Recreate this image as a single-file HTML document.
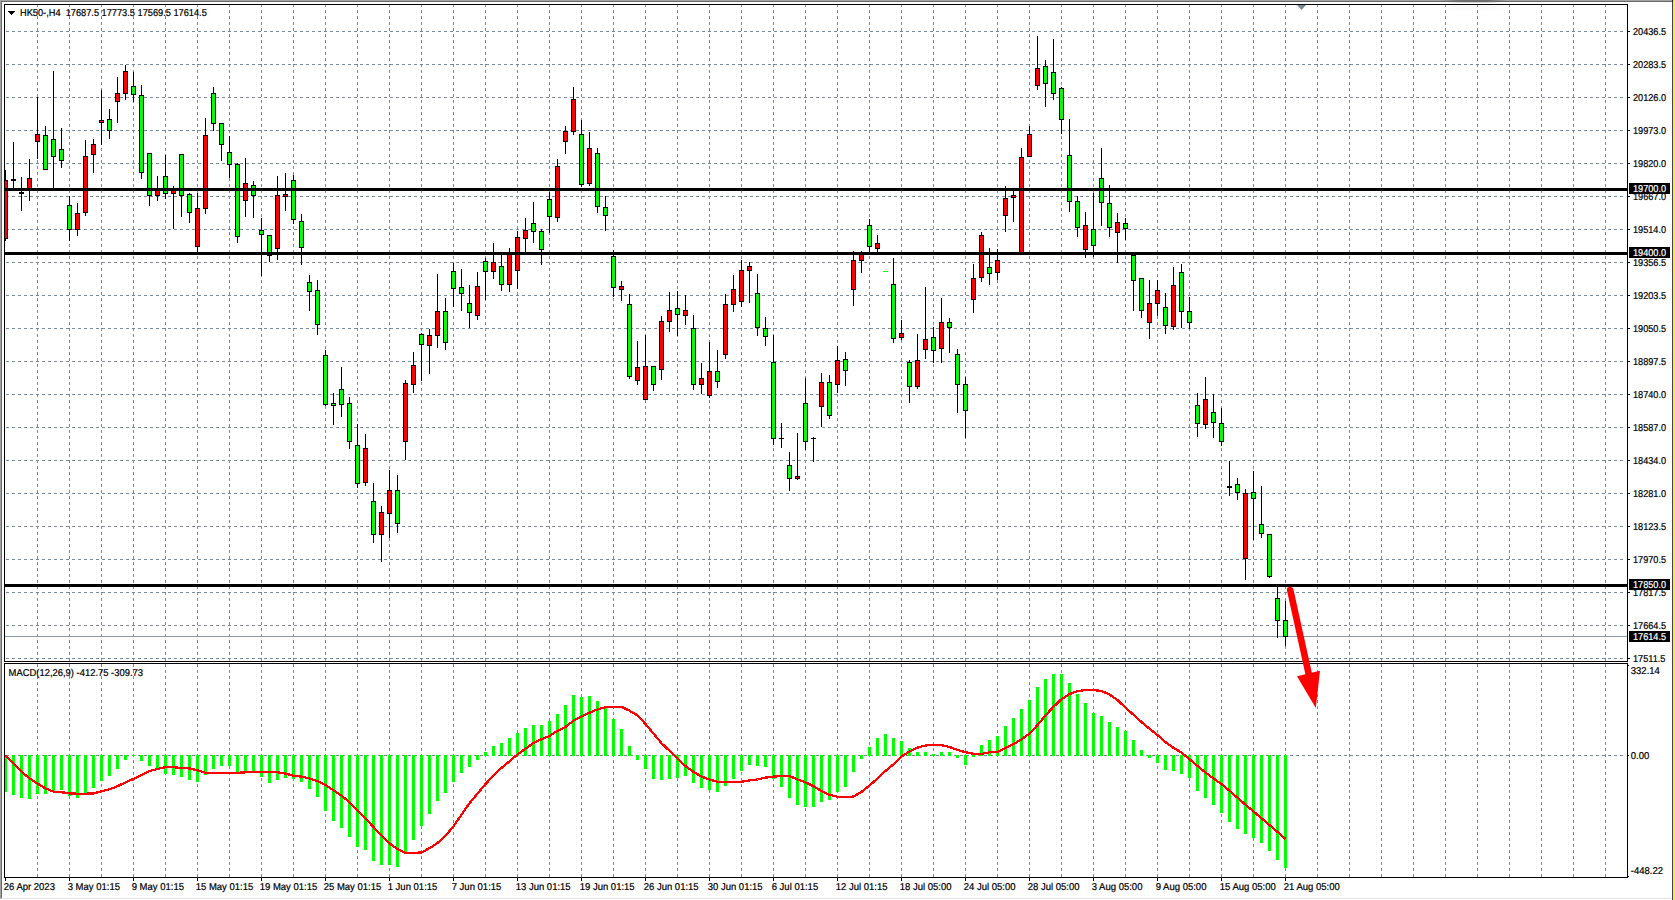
<!DOCTYPE html>
<html><head><meta charset="utf-8"><title>HK50-,H4</title>
<style>html,body{margin:0;padding:0;background:#fff;overflow:hidden}svg{display:block}text{font-family:"Liberation Sans",sans-serif;font-size:10px;fill:#000;stroke:#000;stroke-width:0.22px;text-rendering:geometricPrecision}.w{fill:#fff;stroke:#fff}</style></head><body>
<svg width="1675" height="900" viewBox="0 0 1675 900">
<rect x="0" y="0" width="1675" height="900" fill="#fff"/>
<g shape-rendering="crispEdges">
<rect x="0" y="0" width="1672" height="1" fill="#a4a4a4"/>
<rect x="0" y="0" width="1" height="899" fill="#a2a2a2"/>
<rect x="1" y="1" width="1671" height="1" fill="#696969"/>
<rect x="1" y="1" width="1" height="897" fill="#696969"/>
<rect x="1" y="898" width="1670" height="1" fill="#e2e2e2"/>
<rect x="1672" y="0" width="1" height="900" fill="#41414a"/>
<rect x="1672" y="0" width="1" height="2" fill="#1c1c24"/>
<rect x="1673" y="0" width="2" height="900" fill="#ffe83c"/>
<defs><linearGradient id="sh" x1="0" x2="1" y1="0" y2="0"><stop offset="0" stop-color="#000" stop-opacity="0"/><stop offset="0.3" stop-color="#000" stop-opacity="1"/><stop offset="0.7" stop-color="#000" stop-opacity="1"/><stop offset="1" stop-color="#000" stop-opacity="0"/></linearGradient></defs>
<rect x="1440" y="0" width="68" height="1" fill="url(#sh)" opacity="0.33"/>
<rect x="1446" y="2" width="56" height="1" fill="url(#sh)" opacity="0.18"/>
<rect x="1436" y="5" width="76" height="5" fill="url(#sh)" opacity="0.025"/>
<defs><clipPath id="cg"><rect x="5" y="5" width="1621" height="656"/><rect x="5" y="664" width="1621" height="213"/></clipPath></defs>
<g stroke="#778899" stroke-width="1" stroke-dasharray="3 3" fill="none" clip-path="url(#cg)">
<path d="M37.5 4V661M37.5 664V877" stroke-dashoffset="0"/>
<path d="M69.5 4V661M69.5 664V877" stroke-dashoffset="0"/>
<path d="M101.5 4V661M101.5 664V877" stroke-dashoffset="0"/>
<path d="M133.5 4V661M133.5 664V877" stroke-dashoffset="0"/>
<path d="M165.5 4V661M165.5 664V877" stroke-dashoffset="0"/>
<path d="M197.5 4V661M197.5 664V877" stroke-dashoffset="0"/>
<path d="M229.5 4V661M229.5 664V877" stroke-dashoffset="0"/>
<path d="M261.5 4V661M261.5 664V877" stroke-dashoffset="0"/>
<path d="M293.5 4V661M293.5 664V877" stroke-dashoffset="0"/>
<path d="M325.5 4V661M325.5 664V877" stroke-dashoffset="0"/>
<path d="M357.5 4V661M357.5 664V877" stroke-dashoffset="0"/>
<path d="M389.5 4V661M389.5 664V877" stroke-dashoffset="0"/>
<path d="M421.5 4V661M421.5 664V877" stroke-dashoffset="0"/>
<path d="M453.5 4V661M453.5 664V877" stroke-dashoffset="0"/>
<path d="M485.5 4V661M485.5 664V877" stroke-dashoffset="0"/>
<path d="M517.5 4V661M517.5 664V877" stroke-dashoffset="0"/>
<path d="M549.5 4V661M549.5 664V877" stroke-dashoffset="0"/>
<path d="M581.5 4V661M581.5 664V877" stroke-dashoffset="0"/>
<path d="M613.5 4V661M613.5 664V877" stroke-dashoffset="0"/>
<path d="M645.5 4V661M645.5 664V877" stroke-dashoffset="0"/>
<path d="M677.5 4V661M677.5 664V877" stroke-dashoffset="0"/>
<path d="M709.5 4V661M709.5 664V877" stroke-dashoffset="0"/>
<path d="M741.5 4V661M741.5 664V877" stroke-dashoffset="0"/>
<path d="M773.5 4V661M773.5 664V877" stroke-dashoffset="0"/>
<path d="M805.5 4V661M805.5 664V877" stroke-dashoffset="0"/>
<path d="M837.5 4V661M837.5 664V877" stroke-dashoffset="0"/>
<path d="M869.5 4V661M869.5 664V877" stroke-dashoffset="0"/>
<path d="M901.5 4V661M901.5 664V877" stroke-dashoffset="0"/>
<path d="M933.5 4V661M933.5 664V877" stroke-dashoffset="0"/>
<path d="M965.5 4V661M965.5 664V877" stroke-dashoffset="0"/>
<path d="M997.5 4V661M997.5 664V877" stroke-dashoffset="0"/>
<path d="M1029.5 4V661M1029.5 664V877" stroke-dashoffset="0"/>
<path d="M1061.5 4V661M1061.5 664V877" stroke-dashoffset="0"/>
<path d="M1093.5 4V661M1093.5 664V877" stroke-dashoffset="0"/>
<path d="M1125.5 4V661M1125.5 664V877" stroke-dashoffset="0"/>
<path d="M1157.5 4V661M1157.5 664V877" stroke-dashoffset="0"/>
<path d="M1189.5 4V661M1189.5 664V877" stroke-dashoffset="0"/>
<path d="M1221.5 4V661M1221.5 664V877" stroke-dashoffset="0"/>
<path d="M1253.5 4V661M1253.5 664V877" stroke-dashoffset="0"/>
<path d="M1285.5 4V661M1285.5 664V877" stroke-dashoffset="0"/>
<path d="M1317.5 4V661M1317.5 664V877" stroke-dashoffset="0"/>
<path d="M1349.5 4V661M1349.5 664V877" stroke-dashoffset="0"/>
<path d="M1381.5 4V661M1381.5 664V877" stroke-dashoffset="0"/>
<path d="M1413.5 4V661M1413.5 664V877" stroke-dashoffset="0"/>
<path d="M1445.5 4V661M1445.5 664V877" stroke-dashoffset="0"/>
<path d="M1477.5 4V661M1477.5 664V877" stroke-dashoffset="0"/>
<path d="M1509.5 4V661M1509.5 664V877" stroke-dashoffset="0"/>
<path d="M1541.5 4V661M1541.5 664V877" stroke-dashoffset="0"/>
<path d="M1573.5 4V661M1573.5 664V877" stroke-dashoffset="0"/>
<path d="M1605.5 4V661M1605.5 664V877" stroke-dashoffset="0"/>
<path d="M0 31.5H1627"/>
<path d="M0 64.5H1627"/>
<path d="M0 97.5H1627"/>
<path d="M0 130.5H1627"/>
<path d="M0 163.5H1627"/>
<path d="M0 196.5H1627"/>
<path d="M0 229.5H1627"/>
<path d="M0 262.5H1627"/>
<path d="M0 295.5H1627"/>
<path d="M0 328.5H1627"/>
<path d="M0 361.5H1627"/>
<path d="M0 394.5H1627"/>
<path d="M0 427.5H1627"/>
<path d="M0 460.5H1627"/>
<path d="M0 493.5H1627"/>
<path d="M0 526.5H1627"/>
<path d="M0 559.5H1627"/>
<path d="M0 592.5H1627"/>
<path d="M0 625.5H1627"/>
<path d="M0 658.5H1627"/>
<path d="M0 755.5H1627"/>
</g>
<rect x="5" y="636" width="1622" height="1" fill="#8c9aab"/>
<rect x="5" y="170" width="1" height="71" fill="#000"/>
<rect x="3" y="180" width="5" height="59" fill="#000"/>
<rect x="4" y="181" width="3" height="57" fill="#ff0000"/>
<rect x="13" y="142" width="1" height="47" fill="#000"/>
<rect x="11" y="179" width="5" height="2" fill="#000"/>
<rect x="21" y="177" width="1" height="34" fill="#000"/>
<rect x="19" y="192" width="5" height="2" fill="#000"/>
<rect x="29" y="159" width="1" height="42" fill="#000"/>
<rect x="27" y="178" width="5" height="12" fill="#000"/>
<rect x="28" y="179" width="3" height="10" fill="#ff0000"/>
<rect x="37" y="97" width="1" height="62" fill="#000"/>
<rect x="35" y="134" width="5" height="8" fill="#000"/>
<rect x="36" y="135" width="3" height="6" fill="#ff0000"/>
<rect x="45" y="126" width="1" height="44" fill="#000"/>
<rect x="43" y="135" width="5" height="35" fill="#000"/>
<rect x="44" y="136" width="3" height="33" fill="#00ff00"/>
<rect x="53" y="71" width="1" height="118" fill="#000"/>
<rect x="51" y="139" width="5" height="18" fill="#000"/>
<rect x="52" y="140" width="3" height="16" fill="#00ff00"/>
<rect x="61" y="128" width="1" height="40" fill="#000"/>
<rect x="59" y="149" width="5" height="12" fill="#000"/>
<rect x="60" y="150" width="3" height="10" fill="#00ff00"/>
<rect x="69" y="196" width="1" height="45" fill="#000"/>
<rect x="67" y="205" width="5" height="25" fill="#000"/>
<rect x="68" y="206" width="3" height="23" fill="#00ff00"/>
<rect x="77" y="203" width="1" height="33" fill="#000"/>
<rect x="75" y="213" width="5" height="17" fill="#000"/>
<rect x="76" y="214" width="3" height="15" fill="#ff0000"/>
<rect x="85" y="140" width="1" height="76" fill="#000"/>
<rect x="83" y="156" width="5" height="57" fill="#000"/>
<rect x="84" y="157" width="3" height="55" fill="#ff0000"/>
<rect x="93" y="139" width="1" height="34" fill="#000"/>
<rect x="91" y="144" width="5" height="11" fill="#000"/>
<rect x="92" y="145" width="3" height="9" fill="#ff0000"/>
<rect x="101" y="90" width="1" height="55" fill="#000"/>
<rect x="99" y="120" width="5" height="3" fill="#000"/>
<rect x="100" y="121" width="3" height="1" fill="#ff0000"/>
<rect x="109" y="109" width="1" height="30" fill="#000"/>
<rect x="107" y="119" width="5" height="12" fill="#000"/>
<rect x="108" y="120" width="3" height="10" fill="#00ff00"/>
<rect x="117" y="77" width="1" height="46" fill="#000"/>
<rect x="115" y="93" width="5" height="9" fill="#000"/>
<rect x="116" y="94" width="3" height="7" fill="#ff0000"/>
<rect x="125" y="65" width="1" height="35" fill="#000"/>
<rect x="123" y="71" width="5" height="23" fill="#000"/>
<rect x="124" y="72" width="3" height="21" fill="#ff0000"/>
<rect x="133" y="72" width="1" height="30" fill="#000"/>
<rect x="131" y="86" width="5" height="9" fill="#000"/>
<rect x="132" y="87" width="3" height="7" fill="#00ff00"/>
<rect x="141" y="85" width="1" height="94" fill="#000"/>
<rect x="139" y="95" width="5" height="78" fill="#000"/>
<rect x="140" y="96" width="3" height="76" fill="#00ff00"/>
<rect x="149" y="153" width="1" height="53" fill="#000"/>
<rect x="147" y="153" width="5" height="43" fill="#000"/>
<rect x="148" y="154" width="3" height="41" fill="#00ff00"/>
<rect x="157" y="176" width="1" height="25" fill="#000"/>
<rect x="155" y="189" width="5" height="7" fill="#000"/>
<rect x="156" y="190" width="3" height="5" fill="#ff0000"/>
<rect x="165" y="155" width="1" height="44" fill="#000"/>
<rect x="163" y="176" width="5" height="18" fill="#000"/>
<rect x="164" y="177" width="3" height="16" fill="#00ff00"/>
<rect x="173" y="186" width="1" height="43" fill="#000"/>
<rect x="171" y="189" width="5" height="5" fill="#000"/>
<rect x="172" y="190" width="3" height="3" fill="#ff0000"/>
<rect x="181" y="154" width="1" height="63" fill="#000"/>
<rect x="179" y="154" width="5" height="42" fill="#000"/>
<rect x="180" y="155" width="3" height="40" fill="#00ff00"/>
<rect x="189" y="193" width="1" height="30" fill="#000"/>
<rect x="187" y="194" width="5" height="19" fill="#000"/>
<rect x="188" y="195" width="3" height="17" fill="#00ff00"/>
<rect x="197" y="193" width="1" height="60" fill="#000"/>
<rect x="195" y="208" width="5" height="39" fill="#000"/>
<rect x="196" y="209" width="3" height="37" fill="#ff0000"/>
<rect x="205" y="118" width="1" height="96" fill="#000"/>
<rect x="203" y="135" width="5" height="74" fill="#000"/>
<rect x="204" y="136" width="3" height="72" fill="#ff0000"/>
<rect x="213" y="87" width="1" height="44" fill="#000"/>
<rect x="211" y="93" width="5" height="31" fill="#000"/>
<rect x="212" y="94" width="3" height="29" fill="#00ff00"/>
<rect x="221" y="123" width="1" height="38" fill="#000"/>
<rect x="219" y="123" width="5" height="22" fill="#000"/>
<rect x="220" y="124" width="3" height="20" fill="#00ff00"/>
<rect x="229" y="136" width="1" height="42" fill="#000"/>
<rect x="227" y="152" width="5" height="13" fill="#000"/>
<rect x="228" y="153" width="3" height="11" fill="#00ff00"/>
<rect x="237" y="163" width="1" height="80" fill="#000"/>
<rect x="235" y="164" width="5" height="73" fill="#000"/>
<rect x="236" y="165" width="3" height="71" fill="#00ff00"/>
<rect x="245" y="158" width="1" height="59" fill="#000"/>
<rect x="243" y="183" width="5" height="18" fill="#000"/>
<rect x="244" y="184" width="3" height="16" fill="#ff0000"/>
<rect x="253" y="181" width="1" height="37" fill="#000"/>
<rect x="251" y="185" width="5" height="11" fill="#000"/>
<rect x="252" y="186" width="3" height="9" fill="#00ff00"/>
<rect x="261" y="218" width="1" height="58" fill="#000"/>
<rect x="259" y="230" width="5" height="5" fill="#000"/>
<rect x="260" y="231" width="3" height="3" fill="#00ff00"/>
<rect x="269" y="235" width="1" height="27" fill="#000"/>
<rect x="267" y="235" width="5" height="21" fill="#000"/>
<rect x="268" y="236" width="3" height="19" fill="#00ff00"/>
<rect x="277" y="176" width="1" height="84" fill="#000"/>
<rect x="275" y="195" width="5" height="54" fill="#000"/>
<rect x="276" y="196" width="3" height="52" fill="#ff0000"/>
<rect x="285" y="173" width="1" height="38" fill="#000"/>
<rect x="283" y="194" width="5" height="3" fill="#000"/>
<rect x="284" y="195" width="3" height="1" fill="#ff0000"/>
<rect x="293" y="175" width="1" height="49" fill="#000"/>
<rect x="291" y="180" width="5" height="40" fill="#000"/>
<rect x="292" y="181" width="3" height="38" fill="#00ff00"/>
<rect x="301" y="214" width="1" height="51" fill="#000"/>
<rect x="299" y="221" width="5" height="27" fill="#000"/>
<rect x="300" y="222" width="3" height="25" fill="#00ff00"/>
<rect x="309" y="275" width="1" height="36" fill="#000"/>
<rect x="307" y="282" width="5" height="10" fill="#000"/>
<rect x="308" y="283" width="3" height="8" fill="#00ff00"/>
<rect x="317" y="280" width="1" height="55" fill="#000"/>
<rect x="315" y="290" width="5" height="35" fill="#000"/>
<rect x="316" y="291" width="3" height="33" fill="#00ff00"/>
<rect x="325" y="350" width="1" height="56" fill="#000"/>
<rect x="323" y="355" width="5" height="50" fill="#000"/>
<rect x="324" y="356" width="3" height="48" fill="#00ff00"/>
<rect x="333" y="393" width="1" height="32" fill="#000"/>
<rect x="331" y="403" width="5" height="3" fill="#000"/>
<rect x="332" y="404" width="3" height="1" fill="#00ff00"/>
<rect x="341" y="367" width="1" height="50" fill="#000"/>
<rect x="339" y="389" width="5" height="16" fill="#000"/>
<rect x="340" y="390" width="3" height="14" fill="#00ff00"/>
<rect x="349" y="397" width="1" height="52" fill="#000"/>
<rect x="347" y="403" width="5" height="39" fill="#000"/>
<rect x="348" y="404" width="3" height="37" fill="#00ff00"/>
<rect x="357" y="424" width="1" height="64" fill="#000"/>
<rect x="355" y="445" width="5" height="39" fill="#000"/>
<rect x="356" y="446" width="3" height="37" fill="#00ff00"/>
<rect x="365" y="434" width="1" height="52" fill="#000"/>
<rect x="363" y="448" width="5" height="35" fill="#000"/>
<rect x="364" y="449" width="3" height="33" fill="#ff0000"/>
<rect x="373" y="483" width="1" height="60" fill="#000"/>
<rect x="371" y="501" width="5" height="34" fill="#000"/>
<rect x="372" y="502" width="3" height="32" fill="#00ff00"/>
<rect x="381" y="506" width="1" height="56" fill="#000"/>
<rect x="379" y="512" width="5" height="23" fill="#000"/>
<rect x="380" y="513" width="3" height="21" fill="#ff0000"/>
<rect x="389" y="470" width="1" height="68" fill="#000"/>
<rect x="387" y="490" width="5" height="24" fill="#000"/>
<rect x="388" y="491" width="3" height="22" fill="#ff0000"/>
<rect x="397" y="475" width="1" height="58" fill="#000"/>
<rect x="395" y="490" width="5" height="34" fill="#000"/>
<rect x="396" y="491" width="3" height="32" fill="#00ff00"/>
<rect x="405" y="380" width="1" height="80" fill="#000"/>
<rect x="403" y="383" width="5" height="59" fill="#000"/>
<rect x="404" y="384" width="3" height="57" fill="#ff0000"/>
<rect x="413" y="352" width="1" height="41" fill="#000"/>
<rect x="411" y="365" width="5" height="20" fill="#000"/>
<rect x="412" y="366" width="3" height="18" fill="#ff0000"/>
<rect x="421" y="333" width="1" height="48" fill="#000"/>
<rect x="419" y="334" width="5" height="11" fill="#000"/>
<rect x="420" y="335" width="3" height="9" fill="#00ff00"/>
<rect x="429" y="329" width="1" height="45" fill="#000"/>
<rect x="427" y="335" width="5" height="11" fill="#000"/>
<rect x="428" y="336" width="3" height="9" fill="#ff0000"/>
<rect x="437" y="274" width="1" height="74" fill="#000"/>
<rect x="435" y="311" width="5" height="25" fill="#000"/>
<rect x="436" y="312" width="3" height="23" fill="#ff0000"/>
<rect x="445" y="298" width="1" height="52" fill="#000"/>
<rect x="443" y="311" width="5" height="32" fill="#000"/>
<rect x="444" y="312" width="3" height="30" fill="#00ff00"/>
<rect x="453" y="263" width="1" height="44" fill="#000"/>
<rect x="451" y="271" width="5" height="18" fill="#000"/>
<rect x="452" y="272" width="3" height="16" fill="#00ff00"/>
<rect x="461" y="269" width="1" height="42" fill="#000"/>
<rect x="459" y="287" width="5" height="7" fill="#000"/>
<rect x="460" y="288" width="3" height="5" fill="#00ff00"/>
<rect x="469" y="285" width="1" height="43" fill="#000"/>
<rect x="467" y="303" width="5" height="10" fill="#000"/>
<rect x="468" y="304" width="3" height="8" fill="#00ff00"/>
<rect x="477" y="272" width="1" height="48" fill="#000"/>
<rect x="475" y="286" width="5" height="30" fill="#000"/>
<rect x="476" y="287" width="3" height="28" fill="#ff0000"/>
<rect x="485" y="258" width="1" height="42" fill="#000"/>
<rect x="483" y="261" width="5" height="11" fill="#000"/>
<rect x="484" y="262" width="3" height="9" fill="#00ff00"/>
<rect x="493" y="243" width="1" height="36" fill="#000"/>
<rect x="491" y="262" width="5" height="10" fill="#000"/>
<rect x="492" y="263" width="3" height="8" fill="#ff0000"/>
<rect x="501" y="254" width="1" height="37" fill="#000"/>
<rect x="499" y="266" width="5" height="19" fill="#000"/>
<rect x="500" y="267" width="3" height="17" fill="#00ff00"/>
<rect x="509" y="248" width="1" height="44" fill="#000"/>
<rect x="507" y="253" width="5" height="32" fill="#000"/>
<rect x="508" y="254" width="3" height="30" fill="#ff0000"/>
<rect x="517" y="231" width="1" height="58" fill="#000"/>
<rect x="515" y="237" width="5" height="34" fill="#000"/>
<rect x="516" y="238" width="3" height="32" fill="#ff0000"/>
<rect x="525" y="218" width="1" height="34" fill="#000"/>
<rect x="523" y="230" width="5" height="9" fill="#000"/>
<rect x="524" y="231" width="3" height="7" fill="#ff0000"/>
<rect x="533" y="202" width="1" height="41" fill="#000"/>
<rect x="531" y="223" width="5" height="9" fill="#000"/>
<rect x="532" y="224" width="3" height="7" fill="#00ff00"/>
<rect x="541" y="229" width="1" height="36" fill="#000"/>
<rect x="539" y="231" width="5" height="19" fill="#000"/>
<rect x="540" y="232" width="3" height="17" fill="#00ff00"/>
<rect x="549" y="192" width="1" height="41" fill="#000"/>
<rect x="547" y="199" width="5" height="18" fill="#000"/>
<rect x="548" y="200" width="3" height="16" fill="#00ff00"/>
<rect x="557" y="159" width="1" height="63" fill="#000"/>
<rect x="555" y="166" width="5" height="52" fill="#000"/>
<rect x="556" y="167" width="3" height="50" fill="#ff0000"/>
<rect x="565" y="126" width="1" height="28" fill="#000"/>
<rect x="563" y="131" width="5" height="11" fill="#000"/>
<rect x="564" y="132" width="3" height="9" fill="#ff0000"/>
<rect x="573" y="87" width="1" height="48" fill="#000"/>
<rect x="571" y="99" width="5" height="33" fill="#000"/>
<rect x="572" y="100" width="3" height="31" fill="#ff0000"/>
<rect x="581" y="120" width="1" height="67" fill="#000"/>
<rect x="579" y="134" width="5" height="51" fill="#000"/>
<rect x="580" y="135" width="3" height="49" fill="#00ff00"/>
<rect x="589" y="132" width="1" height="54" fill="#000"/>
<rect x="587" y="148" width="5" height="36" fill="#000"/>
<rect x="588" y="149" width="3" height="34" fill="#ff0000"/>
<rect x="597" y="148" width="1" height="65" fill="#000"/>
<rect x="595" y="153" width="5" height="54" fill="#000"/>
<rect x="596" y="154" width="3" height="52" fill="#00ff00"/>
<rect x="605" y="196" width="1" height="35" fill="#000"/>
<rect x="603" y="207" width="5" height="9" fill="#000"/>
<rect x="604" y="208" width="3" height="7" fill="#00ff00"/>
<rect x="613" y="250" width="1" height="47" fill="#000"/>
<rect x="611" y="256" width="5" height="32" fill="#000"/>
<rect x="612" y="257" width="3" height="30" fill="#00ff00"/>
<rect x="621" y="281" width="1" height="20" fill="#000"/>
<rect x="619" y="286" width="5" height="4" fill="#000"/>
<rect x="620" y="287" width="3" height="2" fill="#ff0000"/>
<rect x="629" y="294" width="1" height="85" fill="#000"/>
<rect x="627" y="304" width="5" height="73" fill="#000"/>
<rect x="628" y="305" width="3" height="71" fill="#00ff00"/>
<rect x="637" y="341" width="1" height="44" fill="#000"/>
<rect x="635" y="367" width="5" height="14" fill="#000"/>
<rect x="636" y="368" width="3" height="12" fill="#ff0000"/>
<rect x="645" y="335" width="1" height="65" fill="#000"/>
<rect x="643" y="366" width="5" height="34" fill="#000"/>
<rect x="644" y="367" width="3" height="32" fill="#ff0000"/>
<rect x="653" y="366" width="1" height="25" fill="#000"/>
<rect x="651" y="366" width="5" height="19" fill="#000"/>
<rect x="652" y="367" width="3" height="17" fill="#00ff00"/>
<rect x="661" y="316" width="1" height="64" fill="#000"/>
<rect x="659" y="321" width="5" height="49" fill="#000"/>
<rect x="660" y="322" width="3" height="47" fill="#ff0000"/>
<rect x="669" y="292" width="1" height="40" fill="#000"/>
<rect x="667" y="310" width="5" height="12" fill="#000"/>
<rect x="668" y="311" width="3" height="10" fill="#ff0000"/>
<rect x="677" y="291" width="1" height="45" fill="#000"/>
<rect x="675" y="308" width="5" height="7" fill="#000"/>
<rect x="676" y="309" width="3" height="5" fill="#00ff00"/>
<rect x="685" y="295" width="1" height="30" fill="#000"/>
<rect x="683" y="310" width="5" height="6" fill="#000"/>
<rect x="684" y="311" width="3" height="4" fill="#ff0000"/>
<rect x="693" y="315" width="1" height="75" fill="#000"/>
<rect x="691" y="328" width="5" height="57" fill="#000"/>
<rect x="692" y="329" width="3" height="55" fill="#00ff00"/>
<rect x="701" y="363" width="1" height="31" fill="#000"/>
<rect x="699" y="378" width="5" height="7" fill="#000"/>
<rect x="700" y="379" width="3" height="5" fill="#ff0000"/>
<rect x="709" y="342" width="1" height="56" fill="#000"/>
<rect x="707" y="371" width="5" height="25" fill="#000"/>
<rect x="708" y="372" width="3" height="23" fill="#ff0000"/>
<rect x="717" y="350" width="1" height="38" fill="#000"/>
<rect x="715" y="371" width="5" height="11" fill="#000"/>
<rect x="716" y="372" width="3" height="9" fill="#00ff00"/>
<rect x="725" y="294" width="1" height="65" fill="#000"/>
<rect x="723" y="304" width="5" height="51" fill="#000"/>
<rect x="724" y="305" width="3" height="49" fill="#ff0000"/>
<rect x="733" y="275" width="1" height="37" fill="#000"/>
<rect x="731" y="289" width="5" height="16" fill="#000"/>
<rect x="732" y="290" width="3" height="14" fill="#ff0000"/>
<rect x="741" y="260" width="1" height="47" fill="#000"/>
<rect x="739" y="270" width="5" height="32" fill="#000"/>
<rect x="740" y="271" width="3" height="30" fill="#ff0000"/>
<rect x="749" y="262" width="1" height="41" fill="#000"/>
<rect x="747" y="266" width="5" height="5" fill="#000"/>
<rect x="748" y="267" width="3" height="3" fill="#ff0000"/>
<rect x="757" y="274" width="1" height="62" fill="#000"/>
<rect x="755" y="293" width="5" height="35" fill="#000"/>
<rect x="756" y="294" width="3" height="33" fill="#00ff00"/>
<rect x="765" y="317" width="1" height="29" fill="#000"/>
<rect x="763" y="328" width="5" height="9" fill="#000"/>
<rect x="764" y="329" width="3" height="7" fill="#00ff00"/>
<rect x="773" y="335" width="1" height="110" fill="#000"/>
<rect x="771" y="362" width="5" height="77" fill="#000"/>
<rect x="772" y="363" width="3" height="75" fill="#00ff00"/>
<rect x="781" y="423" width="1" height="25" fill="#000"/>
<rect x="779" y="438" width="5" height="1" fill="#000"/>
<rect x="789" y="452" width="1" height="39" fill="#000"/>
<rect x="787" y="465" width="5" height="14" fill="#000"/>
<rect x="788" y="466" width="3" height="12" fill="#00ff00"/>
<rect x="797" y="433" width="1" height="47" fill="#000"/>
<rect x="795" y="476" width="5" height="3" fill="#000"/>
<rect x="796" y="477" width="3" height="1" fill="#ff0000"/>
<rect x="805" y="378" width="1" height="72" fill="#000"/>
<rect x="803" y="403" width="5" height="39" fill="#000"/>
<rect x="804" y="404" width="3" height="37" fill="#00ff00"/>
<rect x="813" y="437" width="1" height="25" fill="#000"/>
<rect x="811" y="438" width="5" height="1" fill="#000"/>
<rect x="821" y="373" width="1" height="54" fill="#000"/>
<rect x="819" y="382" width="5" height="25" fill="#000"/>
<rect x="820" y="383" width="3" height="23" fill="#ff0000"/>
<rect x="829" y="375" width="1" height="44" fill="#000"/>
<rect x="827" y="382" width="5" height="34" fill="#000"/>
<rect x="828" y="383" width="3" height="32" fill="#00ff00"/>
<rect x="837" y="346" width="1" height="47" fill="#000"/>
<rect x="835" y="360" width="5" height="25" fill="#000"/>
<rect x="836" y="361" width="3" height="23" fill="#ff0000"/>
<rect x="845" y="352" width="1" height="34" fill="#000"/>
<rect x="843" y="359" width="5" height="12" fill="#000"/>
<rect x="844" y="360" width="3" height="10" fill="#00ff00"/>
<rect x="853" y="251" width="1" height="55" fill="#000"/>
<rect x="851" y="260" width="5" height="30" fill="#000"/>
<rect x="852" y="261" width="3" height="28" fill="#ff0000"/>
<rect x="861" y="251" width="1" height="22" fill="#000"/>
<rect x="859" y="254" width="5" height="7" fill="#000"/>
<rect x="860" y="255" width="3" height="5" fill="#ff0000"/>
<rect x="869" y="219" width="1" height="33" fill="#000"/>
<rect x="867" y="225" width="5" height="22" fill="#000"/>
<rect x="868" y="226" width="3" height="20" fill="#00ff00"/>
<rect x="877" y="235" width="1" height="17" fill="#000"/>
<rect x="875" y="243" width="5" height="6" fill="#000"/>
<rect x="876" y="244" width="3" height="4" fill="#ff0000"/>
<rect x="883" y="271" width="5" height="1" fill="#00ff00"/>
<rect x="893" y="258" width="1" height="85" fill="#000"/>
<rect x="891" y="284" width="5" height="55" fill="#000"/>
<rect x="892" y="285" width="3" height="53" fill="#00ff00"/>
<rect x="901" y="320" width="1" height="20" fill="#000"/>
<rect x="899" y="333" width="5" height="5" fill="#000"/>
<rect x="900" y="334" width="3" height="3" fill="#ff0000"/>
<rect x="909" y="360" width="1" height="43" fill="#000"/>
<rect x="907" y="362" width="5" height="25" fill="#000"/>
<rect x="908" y="363" width="3" height="23" fill="#00ff00"/>
<rect x="917" y="334" width="1" height="55" fill="#000"/>
<rect x="915" y="360" width="5" height="27" fill="#000"/>
<rect x="916" y="361" width="3" height="25" fill="#ff0000"/>
<rect x="925" y="287" width="1" height="72" fill="#000"/>
<rect x="923" y="339" width="5" height="11" fill="#000"/>
<rect x="924" y="340" width="3" height="9" fill="#ff0000"/>
<rect x="933" y="327" width="1" height="36" fill="#000"/>
<rect x="931" y="337" width="5" height="14" fill="#000"/>
<rect x="932" y="338" width="3" height="12" fill="#00ff00"/>
<rect x="941" y="298" width="1" height="65" fill="#000"/>
<rect x="939" y="322" width="5" height="27" fill="#000"/>
<rect x="940" y="323" width="3" height="25" fill="#ff0000"/>
<rect x="949" y="318" width="1" height="35" fill="#000"/>
<rect x="947" y="322" width="5" height="6" fill="#000"/>
<rect x="948" y="323" width="3" height="4" fill="#00ff00"/>
<rect x="957" y="349" width="1" height="64" fill="#000"/>
<rect x="955" y="354" width="5" height="31" fill="#000"/>
<rect x="956" y="355" width="3" height="29" fill="#00ff00"/>
<rect x="965" y="377" width="1" height="61" fill="#000"/>
<rect x="963" y="384" width="5" height="27" fill="#000"/>
<rect x="964" y="385" width="3" height="25" fill="#00ff00"/>
<rect x="973" y="264" width="1" height="49" fill="#000"/>
<rect x="971" y="278" width="5" height="22" fill="#000"/>
<rect x="972" y="279" width="3" height="20" fill="#ff0000"/>
<rect x="981" y="232" width="1" height="50" fill="#000"/>
<rect x="979" y="235" width="5" height="43" fill="#000"/>
<rect x="980" y="236" width="3" height="41" fill="#ff0000"/>
<rect x="989" y="248" width="1" height="37" fill="#000"/>
<rect x="987" y="267" width="5" height="7" fill="#000"/>
<rect x="988" y="268" width="3" height="5" fill="#00ff00"/>
<rect x="997" y="249" width="1" height="31" fill="#000"/>
<rect x="995" y="260" width="5" height="13" fill="#000"/>
<rect x="996" y="261" width="3" height="11" fill="#ff0000"/>
<rect x="1005" y="186" width="1" height="46" fill="#000"/>
<rect x="1003" y="198" width="5" height="18" fill="#000"/>
<rect x="1004" y="199" width="3" height="16" fill="#ff0000"/>
<rect x="1013" y="190" width="1" height="32" fill="#000"/>
<rect x="1011" y="195" width="5" height="3" fill="#000"/>
<rect x="1012" y="196" width="3" height="1" fill="#ff0000"/>
<rect x="1021" y="148" width="1" height="105" fill="#000"/>
<rect x="1019" y="157" width="5" height="96" fill="#000"/>
<rect x="1020" y="158" width="3" height="94" fill="#ff0000"/>
<rect x="1029" y="126" width="1" height="31" fill="#000"/>
<rect x="1027" y="134" width="5" height="23" fill="#000"/>
<rect x="1028" y="135" width="3" height="21" fill="#ff0000"/>
<rect x="1037" y="36" width="1" height="54" fill="#000"/>
<rect x="1035" y="68" width="5" height="18" fill="#000"/>
<rect x="1036" y="69" width="3" height="16" fill="#ff0000"/>
<rect x="1045" y="60" width="1" height="47" fill="#000"/>
<rect x="1043" y="66" width="5" height="18" fill="#000"/>
<rect x="1044" y="67" width="3" height="16" fill="#00ff00"/>
<rect x="1053" y="39" width="1" height="61" fill="#000"/>
<rect x="1051" y="72" width="5" height="22" fill="#000"/>
<rect x="1052" y="73" width="3" height="20" fill="#00ff00"/>
<rect x="1061" y="87" width="1" height="47" fill="#000"/>
<rect x="1059" y="88" width="5" height="32" fill="#000"/>
<rect x="1060" y="89" width="3" height="30" fill="#00ff00"/>
<rect x="1069" y="119" width="1" height="93" fill="#000"/>
<rect x="1067" y="155" width="5" height="47" fill="#000"/>
<rect x="1068" y="156" width="3" height="45" fill="#00ff00"/>
<rect x="1077" y="196" width="1" height="41" fill="#000"/>
<rect x="1075" y="201" width="5" height="27" fill="#000"/>
<rect x="1076" y="202" width="3" height="25" fill="#00ff00"/>
<rect x="1085" y="212" width="1" height="46" fill="#000"/>
<rect x="1083" y="225" width="5" height="25" fill="#000"/>
<rect x="1084" y="226" width="3" height="23" fill="#ff0000"/>
<rect x="1093" y="193" width="1" height="64" fill="#000"/>
<rect x="1091" y="229" width="5" height="17" fill="#000"/>
<rect x="1092" y="230" width="3" height="15" fill="#00ff00"/>
<rect x="1101" y="148" width="1" height="78" fill="#000"/>
<rect x="1099" y="178" width="5" height="25" fill="#000"/>
<rect x="1100" y="179" width="3" height="23" fill="#00ff00"/>
<rect x="1109" y="185" width="1" height="52" fill="#000"/>
<rect x="1107" y="203" width="5" height="25" fill="#000"/>
<rect x="1108" y="204" width="3" height="23" fill="#00ff00"/>
<rect x="1117" y="213" width="1" height="50" fill="#000"/>
<rect x="1115" y="222" width="5" height="11" fill="#000"/>
<rect x="1116" y="223" width="3" height="9" fill="#ff0000"/>
<rect x="1125" y="218" width="1" height="22" fill="#000"/>
<rect x="1123" y="223" width="5" height="6" fill="#000"/>
<rect x="1124" y="224" width="3" height="4" fill="#00ff00"/>
<rect x="1133" y="253" width="1" height="58" fill="#000"/>
<rect x="1131" y="255" width="5" height="26" fill="#000"/>
<rect x="1132" y="256" width="3" height="24" fill="#00ff00"/>
<rect x="1141" y="278" width="1" height="40" fill="#000"/>
<rect x="1139" y="278" width="5" height="33" fill="#000"/>
<rect x="1140" y="279" width="3" height="31" fill="#00ff00"/>
<rect x="1149" y="280" width="1" height="59" fill="#000"/>
<rect x="1147" y="303" width="5" height="20" fill="#000"/>
<rect x="1148" y="304" width="3" height="18" fill="#ff0000"/>
<rect x="1157" y="280" width="1" height="36" fill="#000"/>
<rect x="1155" y="290" width="5" height="14" fill="#000"/>
<rect x="1156" y="291" width="3" height="12" fill="#ff0000"/>
<rect x="1165" y="293" width="1" height="41" fill="#000"/>
<rect x="1163" y="307" width="5" height="19" fill="#000"/>
<rect x="1164" y="308" width="3" height="17" fill="#00ff00"/>
<rect x="1173" y="267" width="1" height="63" fill="#000"/>
<rect x="1171" y="285" width="5" height="42" fill="#000"/>
<rect x="1172" y="286" width="3" height="40" fill="#ff0000"/>
<rect x="1181" y="264" width="1" height="64" fill="#000"/>
<rect x="1179" y="272" width="5" height="40" fill="#000"/>
<rect x="1180" y="273" width="3" height="38" fill="#00ff00"/>
<rect x="1189" y="297" width="1" height="32" fill="#000"/>
<rect x="1187" y="311" width="5" height="12" fill="#000"/>
<rect x="1188" y="312" width="3" height="10" fill="#00ff00"/>
<rect x="1197" y="393" width="1" height="44" fill="#000"/>
<rect x="1195" y="405" width="5" height="19" fill="#000"/>
<rect x="1196" y="406" width="3" height="17" fill="#00ff00"/>
<rect x="1205" y="377" width="1" height="52" fill="#000"/>
<rect x="1203" y="399" width="5" height="26" fill="#000"/>
<rect x="1204" y="400" width="3" height="24" fill="#ff0000"/>
<rect x="1213" y="394" width="1" height="44" fill="#000"/>
<rect x="1211" y="412" width="5" height="11" fill="#000"/>
<rect x="1212" y="413" width="3" height="9" fill="#00ff00"/>
<rect x="1221" y="408" width="1" height="38" fill="#000"/>
<rect x="1219" y="423" width="5" height="19" fill="#000"/>
<rect x="1220" y="424" width="3" height="17" fill="#00ff00"/>
<rect x="1229" y="461" width="1" height="35" fill="#000"/>
<rect x="1227" y="486" width="5" height="2" fill="#000"/>
<rect x="1237" y="478" width="1" height="22" fill="#000"/>
<rect x="1235" y="484" width="5" height="9" fill="#000"/>
<rect x="1236" y="485" width="3" height="7" fill="#00ff00"/>
<rect x="1245" y="489" width="1" height="91" fill="#000"/>
<rect x="1243" y="493" width="5" height="66" fill="#000"/>
<rect x="1244" y="494" width="3" height="64" fill="#ff0000"/>
<rect x="1253" y="471" width="1" height="69" fill="#000"/>
<rect x="1251" y="492" width="5" height="7" fill="#000"/>
<rect x="1252" y="493" width="3" height="5" fill="#00ff00"/>
<rect x="1261" y="486" width="1" height="52" fill="#000"/>
<rect x="1259" y="524" width="5" height="10" fill="#000"/>
<rect x="1260" y="525" width="3" height="8" fill="#00ff00"/>
<rect x="1269" y="534" width="1" height="44" fill="#000"/>
<rect x="1267" y="534" width="5" height="43" fill="#000"/>
<rect x="1268" y="535" width="3" height="41" fill="#00ff00"/>
<rect x="1277" y="587" width="1" height="51" fill="#000"/>
<rect x="1275" y="598" width="5" height="23" fill="#000"/>
<rect x="1276" y="599" width="3" height="21" fill="#00ff00"/>
<rect x="1285" y="601" width="1" height="45" fill="#000"/>
<rect x="1283" y="620" width="5" height="17" fill="#000"/>
<rect x="1284" y="621" width="3" height="15" fill="#00ff00"/>
<rect x="5" y="188" width="1623" height="3" fill="#000"/>
<rect x="5" y="252" width="1623" height="3" fill="#000"/>
<rect x="5" y="584" width="1623" height="3" fill="#000"/>
<rect x="4" y="755" width="3" height="37" fill="#00ff00"/>
<rect x="12" y="755" width="3" height="40" fill="#00ff00"/>
<rect x="20" y="755" width="3" height="43" fill="#00ff00"/>
<rect x="28" y="755" width="3" height="44" fill="#00ff00"/>
<rect x="36" y="755" width="3" height="39" fill="#00ff00"/>
<rect x="44" y="755" width="3" height="39" fill="#00ff00"/>
<rect x="52" y="755" width="3" height="37" fill="#00ff00"/>
<rect x="60" y="755" width="3" height="35" fill="#00ff00"/>
<rect x="68" y="755" width="3" height="41" fill="#00ff00"/>
<rect x="76" y="755" width="3" height="43" fill="#00ff00"/>
<rect x="84" y="755" width="3" height="39" fill="#00ff00"/>
<rect x="92" y="755" width="3" height="33" fill="#00ff00"/>
<rect x="100" y="755" width="3" height="26" fill="#00ff00"/>
<rect x="108" y="755" width="3" height="21" fill="#00ff00"/>
<rect x="116" y="755" width="3" height="14" fill="#00ff00"/>
<rect x="124" y="755" width="3" height="5" fill="#00ff00"/>
<rect x="132" y="755" width="3" height="1" fill="#00ff00"/>
<rect x="140" y="755" width="3" height="6" fill="#00ff00"/>
<rect x="148" y="755" width="3" height="11" fill="#00ff00"/>
<rect x="156" y="755" width="3" height="13" fill="#00ff00"/>
<rect x="164" y="755" width="3" height="19" fill="#00ff00"/>
<rect x="172" y="755" width="3" height="20" fill="#00ff00"/>
<rect x="180" y="755" width="3" height="22" fill="#00ff00"/>
<rect x="188" y="755" width="3" height="25" fill="#00ff00"/>
<rect x="196" y="755" width="3" height="27" fill="#00ff00"/>
<rect x="204" y="755" width="3" height="20" fill="#00ff00"/>
<rect x="212" y="755" width="3" height="14" fill="#00ff00"/>
<rect x="220" y="755" width="3" height="11" fill="#00ff00"/>
<rect x="228" y="755" width="3" height="11" fill="#00ff00"/>
<rect x="236" y="755" width="3" height="18" fill="#00ff00"/>
<rect x="244" y="755" width="3" height="18" fill="#00ff00"/>
<rect x="252" y="755" width="3" height="17" fill="#00ff00"/>
<rect x="260" y="755" width="3" height="22" fill="#00ff00"/>
<rect x="268" y="755" width="3" height="28" fill="#00ff00"/>
<rect x="276" y="755" width="3" height="25" fill="#00ff00"/>
<rect x="284" y="755" width="3" height="23" fill="#00ff00"/>
<rect x="292" y="755" width="3" height="24" fill="#00ff00"/>
<rect x="300" y="755" width="3" height="27" fill="#00ff00"/>
<rect x="308" y="755" width="3" height="34" fill="#00ff00"/>
<rect x="316" y="755" width="3" height="42" fill="#00ff00"/>
<rect x="324" y="755" width="3" height="56" fill="#00ff00"/>
<rect x="332" y="755" width="3" height="66" fill="#00ff00"/>
<rect x="340" y="755" width="3" height="73" fill="#00ff00"/>
<rect x="348" y="755" width="3" height="82" fill="#00ff00"/>
<rect x="356" y="755" width="3" height="92" fill="#00ff00"/>
<rect x="364" y="755" width="3" height="95" fill="#00ff00"/>
<rect x="372" y="755" width="3" height="106" fill="#00ff00"/>
<rect x="380" y="755" width="3" height="110" fill="#00ff00"/>
<rect x="388" y="755" width="3" height="110" fill="#00ff00"/>
<rect x="396" y="755" width="3" height="112" fill="#00ff00"/>
<rect x="404" y="755" width="3" height="99" fill="#00ff00"/>
<rect x="412" y="755" width="3" height="85" fill="#00ff00"/>
<rect x="420" y="755" width="3" height="71" fill="#00ff00"/>
<rect x="428" y="755" width="3" height="59" fill="#00ff00"/>
<rect x="436" y="755" width="3" height="46" fill="#00ff00"/>
<rect x="444" y="755" width="3" height="38" fill="#00ff00"/>
<rect x="452" y="755" width="3" height="27" fill="#00ff00"/>
<rect x="460" y="755" width="3" height="18" fill="#00ff00"/>
<rect x="468" y="755" width="3" height="12" fill="#00ff00"/>
<rect x="476" y="755" width="3" height="5" fill="#00ff00"/>
<rect x="484" y="752" width="3" height="4" fill="#00ff00"/>
<rect x="492" y="746" width="3" height="10" fill="#00ff00"/>
<rect x="500" y="743" width="3" height="13" fill="#00ff00"/>
<rect x="508" y="738" width="3" height="18" fill="#00ff00"/>
<rect x="516" y="733" width="3" height="23" fill="#00ff00"/>
<rect x="524" y="728" width="3" height="28" fill="#00ff00"/>
<rect x="532" y="725" width="3" height="31" fill="#00ff00"/>
<rect x="540" y="725" width="3" height="31" fill="#00ff00"/>
<rect x="548" y="721" width="3" height="35" fill="#00ff00"/>
<rect x="556" y="714" width="3" height="42" fill="#00ff00"/>
<rect x="564" y="705" width="3" height="51" fill="#00ff00"/>
<rect x="572" y="695" width="3" height="61" fill="#00ff00"/>
<rect x="580" y="697" width="3" height="59" fill="#00ff00"/>
<rect x="588" y="696" width="3" height="60" fill="#00ff00"/>
<rect x="596" y="701" width="3" height="55" fill="#00ff00"/>
<rect x="604" y="708" width="3" height="48" fill="#00ff00"/>
<rect x="612" y="719" width="3" height="37" fill="#00ff00"/>
<rect x="620" y="729" width="3" height="27" fill="#00ff00"/>
<rect x="628" y="746" width="3" height="10" fill="#00ff00"/>
<rect x="636" y="755" width="3" height="5" fill="#00ff00"/>
<rect x="644" y="755" width="3" height="14" fill="#00ff00"/>
<rect x="652" y="755" width="3" height="24" fill="#00ff00"/>
<rect x="660" y="755" width="3" height="25" fill="#00ff00"/>
<rect x="668" y="755" width="3" height="24" fill="#00ff00"/>
<rect x="676" y="755" width="3" height="23" fill="#00ff00"/>
<rect x="684" y="755" width="3" height="21" fill="#00ff00"/>
<rect x="692" y="755" width="3" height="28" fill="#00ff00"/>
<rect x="700" y="755" width="3" height="33" fill="#00ff00"/>
<rect x="708" y="755" width="3" height="35" fill="#00ff00"/>
<rect x="716" y="755" width="3" height="37" fill="#00ff00"/>
<rect x="724" y="755" width="3" height="31" fill="#00ff00"/>
<rect x="732" y="755" width="3" height="24" fill="#00ff00"/>
<rect x="740" y="755" width="3" height="16" fill="#00ff00"/>
<rect x="748" y="755" width="3" height="10" fill="#00ff00"/>
<rect x="756" y="755" width="3" height="11" fill="#00ff00"/>
<rect x="764" y="755" width="3" height="12" fill="#00ff00"/>
<rect x="772" y="755" width="3" height="24" fill="#00ff00"/>
<rect x="780" y="755" width="3" height="32" fill="#00ff00"/>
<rect x="788" y="755" width="3" height="43" fill="#00ff00"/>
<rect x="796" y="755" width="3" height="50" fill="#00ff00"/>
<rect x="804" y="755" width="3" height="52" fill="#00ff00"/>
<rect x="812" y="755" width="3" height="52" fill="#00ff00"/>
<rect x="820" y="755" width="3" height="47" fill="#00ff00"/>
<rect x="828" y="755" width="3" height="45" fill="#00ff00"/>
<rect x="836" y="755" width="3" height="37" fill="#00ff00"/>
<rect x="844" y="755" width="3" height="32" fill="#00ff00"/>
<rect x="852" y="755" width="3" height="17" fill="#00ff00"/>
<rect x="860" y="755" width="3" height="4" fill="#00ff00"/>
<rect x="868" y="747" width="3" height="9" fill="#00ff00"/>
<rect x="876" y="738" width="3" height="18" fill="#00ff00"/>
<rect x="884" y="734" width="3" height="22" fill="#00ff00"/>
<rect x="892" y="738" width="3" height="18" fill="#00ff00"/>
<rect x="900" y="741" width="3" height="15" fill="#00ff00"/>
<rect x="908" y="748" width="3" height="8" fill="#00ff00"/>
<rect x="916" y="752" width="3" height="4" fill="#00ff00"/>
<rect x="924" y="752" width="3" height="4" fill="#00ff00"/>
<rect x="932" y="754" width="3" height="2" fill="#00ff00"/>
<rect x="940" y="752" width="3" height="4" fill="#00ff00"/>
<rect x="948" y="752" width="3" height="4" fill="#00ff00"/>
<rect x="956" y="755" width="3" height="3" fill="#00ff00"/>
<rect x="964" y="755" width="3" height="10" fill="#00ff00"/>
<rect x="972" y="755" width="3" height="2" fill="#00ff00"/>
<rect x="980" y="745" width="3" height="11" fill="#00ff00"/>
<rect x="988" y="740" width="3" height="16" fill="#00ff00"/>
<rect x="996" y="736" width="3" height="20" fill="#00ff00"/>
<rect x="1004" y="726" width="3" height="30" fill="#00ff00"/>
<rect x="1012" y="718" width="3" height="38" fill="#00ff00"/>
<rect x="1020" y="709" width="3" height="47" fill="#00ff00"/>
<rect x="1028" y="700" width="3" height="56" fill="#00ff00"/>
<rect x="1036" y="687" width="3" height="69" fill="#00ff00"/>
<rect x="1044" y="679" width="3" height="77" fill="#00ff00"/>
<rect x="1052" y="674" width="3" height="82" fill="#00ff00"/>
<rect x="1060" y="674" width="3" height="82" fill="#00ff00"/>
<rect x="1068" y="683" width="3" height="73" fill="#00ff00"/>
<rect x="1076" y="694" width="3" height="62" fill="#00ff00"/>
<rect x="1084" y="703" width="3" height="53" fill="#00ff00"/>
<rect x="1092" y="713" width="3" height="43" fill="#00ff00"/>
<rect x="1100" y="716" width="3" height="40" fill="#00ff00"/>
<rect x="1108" y="722" width="3" height="34" fill="#00ff00"/>
<rect x="1116" y="727" width="3" height="29" fill="#00ff00"/>
<rect x="1124" y="731" width="3" height="25" fill="#00ff00"/>
<rect x="1132" y="740" width="3" height="16" fill="#00ff00"/>
<rect x="1140" y="750" width="3" height="6" fill="#00ff00"/>
<rect x="1148" y="755" width="3" height="3" fill="#00ff00"/>
<rect x="1156" y="755" width="3" height="8" fill="#00ff00"/>
<rect x="1164" y="755" width="3" height="15" fill="#00ff00"/>
<rect x="1172" y="755" width="3" height="16" fill="#00ff00"/>
<rect x="1180" y="755" width="3" height="19" fill="#00ff00"/>
<rect x="1188" y="755" width="3" height="23" fill="#00ff00"/>
<rect x="1196" y="755" width="3" height="36" fill="#00ff00"/>
<rect x="1204" y="755" width="3" height="43" fill="#00ff00"/>
<rect x="1212" y="755" width="3" height="50" fill="#00ff00"/>
<rect x="1220" y="755" width="3" height="58" fill="#00ff00"/>
<rect x="1228" y="755" width="3" height="67" fill="#00ff00"/>
<rect x="1236" y="755" width="3" height="74" fill="#00ff00"/>
<rect x="1244" y="755" width="3" height="79" fill="#00ff00"/>
<rect x="1252" y="755" width="3" height="83" fill="#00ff00"/>
<rect x="1260" y="755" width="3" height="88" fill="#00ff00"/>
<rect x="1268" y="755" width="3" height="96" fill="#00ff00"/>
<rect x="1276" y="755" width="3" height="105" fill="#00ff00"/>
<rect x="1284" y="755" width="3" height="113" fill="#00ff00"/>
<rect x="2" y="2" width="2" height="896" fill="#fff"/>
<rect x="4" y="4" width="1624" height="1" fill="#000"/>
<rect x="4" y="4" width="1" height="874" fill="#000"/>
<rect x="1627" y="4" width="1" height="874" fill="#000"/>
<rect x="4" y="661" width="1624" height="1" fill="#000"/>
<rect x="4" y="662" width="1624" height="1" fill="#fff"/>
<rect x="4" y="663" width="1624" height="1" fill="#000"/>
<rect x="4" y="877" width="1624" height="1" fill="#000"/>
<rect x="1628" y="31" width="2" height="1" fill="#000"/>
<rect x="1628" y="64" width="2" height="1" fill="#000"/>
<rect x="1628" y="97" width="2" height="1" fill="#000"/>
<rect x="1628" y="130" width="2" height="1" fill="#000"/>
<rect x="1628" y="163" width="2" height="1" fill="#000"/>
<rect x="1628" y="196" width="2" height="1" fill="#000"/>
<rect x="1628" y="229" width="2" height="1" fill="#000"/>
<rect x="1628" y="262" width="2" height="1" fill="#000"/>
<rect x="1628" y="295" width="2" height="1" fill="#000"/>
<rect x="1628" y="328" width="2" height="1" fill="#000"/>
<rect x="1628" y="361" width="2" height="1" fill="#000"/>
<rect x="1628" y="394" width="2" height="1" fill="#000"/>
<rect x="1628" y="427" width="2" height="1" fill="#000"/>
<rect x="1628" y="460" width="2" height="1" fill="#000"/>
<rect x="1628" y="493" width="2" height="1" fill="#000"/>
<rect x="1628" y="526" width="2" height="1" fill="#000"/>
<rect x="1628" y="559" width="2" height="1" fill="#000"/>
<rect x="1628" y="592" width="2" height="1" fill="#000"/>
<rect x="1628" y="625" width="2" height="1" fill="#000"/>
<rect x="1628" y="658" width="2" height="1" fill="#000"/>
<rect x="1628" y="665" width="1" height="1" fill="#000"/>
<rect x="1628" y="755" width="1" height="1" fill="#000"/>
<rect x="1628" y="876" width="1" height="1" fill="#000"/>
<rect x="5" y="878" width="1" height="3" fill="#000"/>
<rect x="69" y="878" width="1" height="3" fill="#000"/>
<rect x="133" y="878" width="1" height="3" fill="#000"/>
<rect x="197" y="878" width="1" height="3" fill="#000"/>
<rect x="261" y="878" width="1" height="3" fill="#000"/>
<rect x="325" y="878" width="1" height="3" fill="#000"/>
<rect x="389" y="878" width="1" height="3" fill="#000"/>
<rect x="453" y="878" width="1" height="3" fill="#000"/>
<rect x="517" y="878" width="1" height="3" fill="#000"/>
<rect x="581" y="878" width="1" height="3" fill="#000"/>
<rect x="645" y="878" width="1" height="3" fill="#000"/>
<rect x="709" y="878" width="1" height="3" fill="#000"/>
<rect x="773" y="878" width="1" height="3" fill="#000"/>
<rect x="837" y="878" width="1" height="3" fill="#000"/>
<rect x="901" y="878" width="1" height="3" fill="#000"/>
<rect x="965" y="878" width="1" height="3" fill="#000"/>
<rect x="1029" y="878" width="1" height="3" fill="#000"/>
<rect x="1093" y="878" width="1" height="3" fill="#000"/>
<rect x="1157" y="878" width="1" height="3" fill="#000"/>
<rect x="1221" y="878" width="1" height="3" fill="#000"/>
<rect x="1285" y="878" width="1" height="3" fill="#000"/>
<path d="M1297 5h9l-4.5 5z" fill="#778899" shape-rendering="geometricPrecision"/>
<path d="M8 11h7v1h-1v1h-1v1h-1v1h-1v-1h-1v-1h-1v-1h-1z" fill="#000"/>
</g>
<polyline points="5.5,755.5 13.5,763.3 21.5,771.6 29.5,778.4 37.5,783.6 45.5,788.4 53.5,791.6 61.5,792.2 69.5,793.4 77.5,793.7 85.5,793.7 93.5,793.4 101.5,791.3 109.5,789.3 117.5,786.2 125.5,782.4 133.5,778.8 141.5,775.0 149.5,771.0 157.5,769.0 165.5,767.2 173.5,767.1 181.5,768.1 189.5,768.4 197.5,770.4 205.5,772.8 213.5,772.8 221.5,772.8 229.5,772.8 237.5,772.8 245.5,772.3 253.5,772.1 261.5,772.1 269.5,772.1 277.5,772.3 285.5,773.6 293.5,775.7 301.5,776.6 309.5,778.4 317.5,781.2 325.5,785.1 333.5,790.4 341.5,795.6 349.5,802.3 357.5,810.5 365.5,818.5 373.5,827.1 381.5,835.7 389.5,843.4 397.5,849.1 405.5,852.9 413.5,852.9 421.5,852.5 429.5,848.2 437.5,843.0 445.5,835.7 453.5,826.2 461.5,814.7 469.5,803.2 477.5,793.7 485.5,784.1 493.5,775.5 501.5,767.9 509.5,761.2 517.5,754.5 525.5,748.7 533.5,743.0 541.5,739.3 549.5,736.0 557.5,730.8 565.5,726.9 573.5,720.7 581.5,716.5 589.5,712.7 597.5,709.4 605.5,707.2 613.5,706.9 621.5,706.8 629.5,710.7 637.5,715.4 645.5,724.0 653.5,733.6 661.5,743.2 669.5,750.8 677.5,758.5 685.5,766.1 693.5,771.8 701.5,776.6 709.5,779.5 717.5,781.8 725.5,781.8 733.5,781.8 741.5,781.8 749.5,780.4 757.5,779.5 765.5,777.6 773.5,776.6 781.5,776.0 789.5,776.0 797.5,779.5 805.5,782.3 813.5,786.2 821.5,791.0 829.5,794.8 837.5,796.8 845.5,797.0 853.5,796.6 861.5,791.9 869.5,785.6 877.5,778.5 885.5,770.9 893.5,764.2 901.5,756.5 909.5,751.4 917.5,747.6 925.5,745.5 933.5,744.7 941.5,745.1 949.5,747.0 957.5,749.9 965.5,752.3 973.5,753.7 981.5,753.9 989.5,752.3 997.5,751.8 1005.5,747.9 1013.5,744.1 1021.5,739.3 1029.5,733.6 1037.5,725.0 1045.5,715.4 1053.5,706.8 1061.5,699.2 1069.5,694.0 1077.5,691.2 1085.5,690.0 1093.5,690.0 1101.5,691.0 1109.5,694.4 1117.5,700.1 1125.5,707.7 1133.5,714.8 1141.5,722.0 1149.5,728.7 1157.5,735.0 1165.5,742.1 1173.5,747.8 1181.5,752.6 1189.5,759.3 1197.5,766.0 1205.5,772.6 1213.5,778.4 1221.5,784.1 1229.5,790.8 1237.5,797.8 1245.5,804.7 1253.5,811.4 1261.5,818.3 1269.5,825.0 1277.5,831.9 1285.5,838.9" fill="none" stroke="#ff0000" stroke-width="2.3" stroke-linejoin="round" shape-rendering="crispEdges"/>
<path d="M1290.2 590L1308.6 673.5" stroke="#ff0000" stroke-width="6.6" stroke-linecap="round" fill="none"/>
<path d="M1297 676.2L1320 670.8L1315.8 708z" fill="#ff0000"/>
<text transform="translate(20 16) scale(0.9229 1)">HK50-,H4&#160;&#160;17687.5 17773.5 17569.5 17614.5</text>
<text transform="translate(8.6 676) scale(0.9408 1)">MACD(12,26,9) -412.75 -309.73</text>
<text transform="translate(1633 35) scale(0.915 1)">20436.5</text>
<text transform="translate(1633 68) scale(0.915 1)">20283.5</text>
<text transform="translate(1633 101) scale(0.915 1)">20126.0</text>
<text transform="translate(1633 134) scale(0.915 1)">19973.0</text>
<text transform="translate(1633 167) scale(0.915 1)">19820.0</text>
<text transform="translate(1633 200) scale(0.915 1)">19667.0</text>
<text transform="translate(1633 233) scale(0.915 1)">19514.0</text>
<text transform="translate(1633 266) scale(0.915 1)">19356.5</text>
<text transform="translate(1633 299) scale(0.915 1)">19203.5</text>
<text transform="translate(1633 332) scale(0.915 1)">19050.5</text>
<text transform="translate(1633 365) scale(0.915 1)">18897.5</text>
<text transform="translate(1633 398) scale(0.915 1)">18740.0</text>
<text transform="translate(1633 431) scale(0.915 1)">18587.0</text>
<text transform="translate(1633 464) scale(0.915 1)">18434.0</text>
<text transform="translate(1633 497) scale(0.915 1)">18281.0</text>
<text transform="translate(1633 530) scale(0.915 1)">18123.5</text>
<text transform="translate(1633 563) scale(0.915 1)">17970.5</text>
<text transform="translate(1633 596) scale(0.915 1)">17817.5</text>
<text transform="translate(1633 629) scale(0.915 1)">17664.5</text>
<text transform="translate(1633 662) scale(0.915 1)">17511.5</text>
<rect x="1629" y="183" width="41" height="11" fill="#000" shape-rendering="crispEdges"/>
<rect x="1629" y="247" width="41" height="11" fill="#000" shape-rendering="crispEdges"/>
<rect x="1629" y="579" width="41" height="11" fill="#000" shape-rendering="crispEdges"/>
<rect x="1629" y="631" width="41" height="11" fill="#000" shape-rendering="crispEdges"/>
<text class="w" transform="translate(1633 192) scale(0.915 1)">19700.0</text>
<text class="w" transform="translate(1633 256) scale(0.915 1)">19400.0</text>
<text class="w" transform="translate(1633 588) scale(0.915 1)">17850.0</text>
<text class="w" transform="translate(1633 640) scale(0.915 1)">17614.5</text>
<text transform="translate(1630.8 674) scale(0.95 1)">332.14</text>
<text transform="translate(1630.8 759) scale(0.95 1)">0.00</text>
<text transform="translate(1630.8 874) scale(0.95 1)">-448.22</text>
<text transform="translate(3.7 890) scale(0.95 1)">26 Apr 2023</text>
<text transform="translate(67.7 890) scale(0.95 1)">3 May 01:15</text>
<text transform="translate(131.7 890) scale(0.95 1)">9 May 01:15</text>
<text transform="translate(195.7 890) scale(0.95 1)">15 May 01:15</text>
<text transform="translate(259.7 890) scale(0.95 1)">19 May 01:15</text>
<text transform="translate(323.7 890) scale(0.95 1)">25 May 01:15</text>
<text transform="translate(387.7 890) scale(0.95 1)">1 Jun 01:15</text>
<text transform="translate(451.7 890) scale(0.95 1)">7 Jun 01:15</text>
<text transform="translate(515.7 890) scale(0.95 1)">13 Jun 01:15</text>
<text transform="translate(579.7 890) scale(0.95 1)">19 Jun 01:15</text>
<text transform="translate(643.7 890) scale(0.95 1)">26 Jun 01:15</text>
<text transform="translate(707.7 890) scale(0.95 1)">30 Jun 01:15</text>
<text transform="translate(771.7 890) scale(0.95 1)">6 Jul 01:15</text>
<text transform="translate(835.7 890) scale(0.95 1)">12 Jul 01:15</text>
<text transform="translate(899.7 890) scale(0.95 1)">18 Jul 05:00</text>
<text transform="translate(963.7 890) scale(0.95 1)">24 Jul 05:00</text>
<text transform="translate(1027.7 890) scale(0.95 1)">28 Jul 05:00</text>
<text transform="translate(1091.7 890) scale(0.95 1)">3 Aug 05:00</text>
<text transform="translate(1155.7 890) scale(0.95 1)">9 Aug 05:00</text>
<text transform="translate(1219.7 890) scale(0.95 1)">15 Aug 05:00</text>
<text transform="translate(1283.7 890) scale(0.95 1)">21 Aug 05:00</text>
</svg></body></html>
